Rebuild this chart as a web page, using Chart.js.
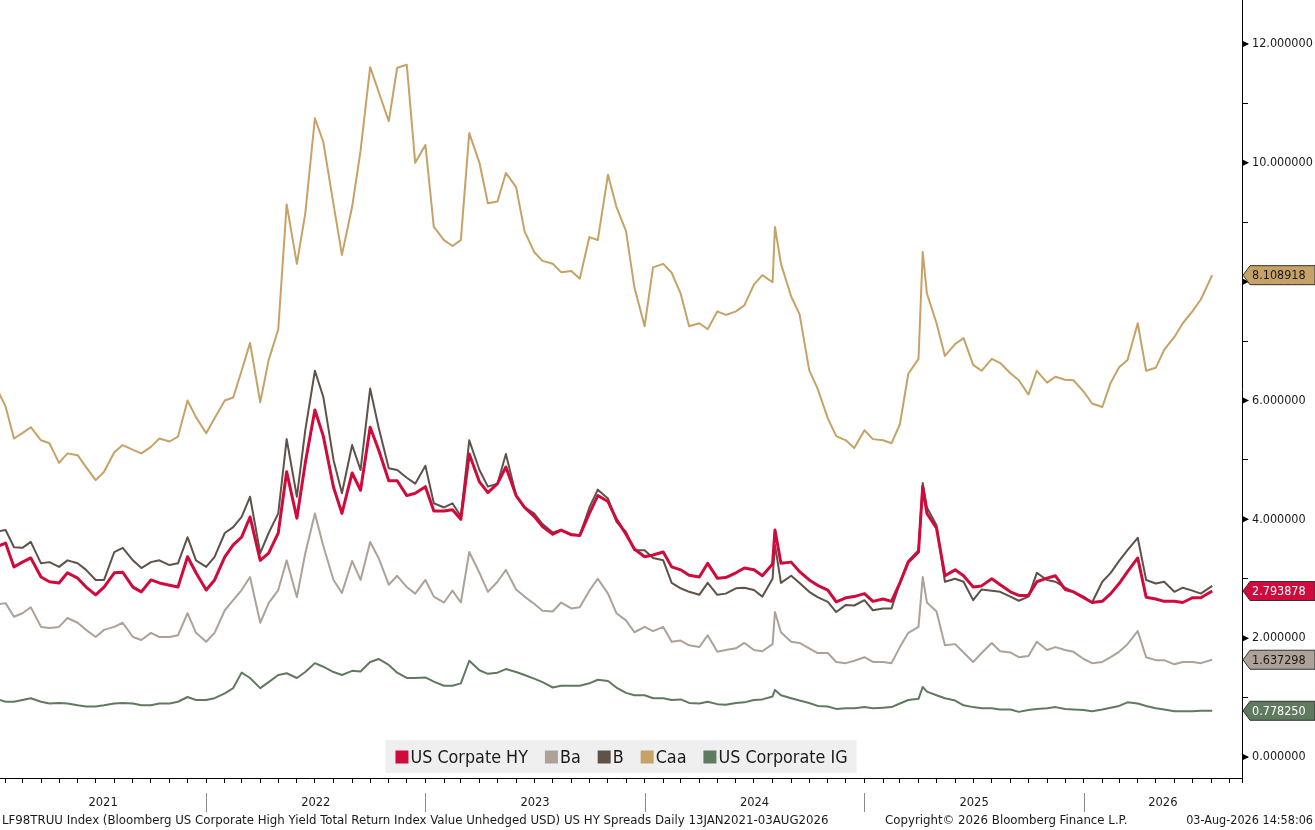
<!DOCTYPE html>
<html lang="en">

<head>
    <meta charset="UTF-8">
    <title>US HY Spreads</title>
    <script src="https://cdn.jsdelivr.net/npm/chart.js@4.4.1/dist/chart.umd.min.js"></script>
    <style>
        html,
        body {
            margin: 0;
            padding: 0;
            background: #ffffff;
        }

        #wrap {
            width: 1315px;
            height: 830px;
        }
    </style>
</head>

<body>
    <div id="wrap"><canvas id="spreadChart" width="1315" height="830"></canvas></div>

    <script>
        // sample dates (roughly twice a month, plus the two spike days)
        const dates = [
            '2021-01-13', '2021-02-01', '2021-02-15', '2021-03-01', '2021-03-15', '2021-04-01', '2021-04-15', '2021-05-01',
            '2021-05-15', '2021-06-01', '2021-06-15', '2021-07-01', '2021-07-15', '2021-08-01', '2021-08-15', '2021-09-01',
            '2021-09-15', '2021-10-01', '2021-10-15', '2021-11-01', '2021-11-15', '2021-12-01', '2021-12-15',
            '2022-01-01', '2022-01-15', '2022-02-01', '2022-02-15', '2022-03-01', '2022-03-15', '2022-04-01', '2022-04-15',
            '2022-05-01', '2022-05-15', '2022-06-01', '2022-06-15', '2022-07-01', '2022-07-15', '2022-08-01', '2022-08-15',
            '2022-09-01', '2022-09-15', '2022-10-01', '2022-10-15', '2022-11-01', '2022-11-15', '2022-12-01', '2022-12-15',
            '2023-01-01', '2023-01-15', '2023-02-01', '2023-02-15', '2023-03-01', '2023-03-15', '2023-04-01', '2023-04-15',
            '2023-05-01', '2023-05-15', '2023-06-01', '2023-06-15', '2023-07-01', '2023-07-15', '2023-08-01', '2023-08-15',
            '2023-09-01', '2023-09-15', '2023-10-01', '2023-10-15', '2023-11-01', '2023-11-15', '2023-12-01', '2023-12-15',
            '2024-01-01', '2024-01-15', '2024-02-01', '2024-02-15', '2024-03-01', '2024-03-15', '2024-04-01', '2024-04-15',
            '2024-05-01', '2024-05-15', '2024-06-01', '2024-06-15', '2024-07-01', '2024-07-15', '2024-08-01', '2024-08-05',
            '2024-08-15', '2024-09-01', '2024-09-15', '2024-10-01', '2024-10-15', '2024-11-01', '2024-11-15', '2024-12-01',
            '2024-12-15',
            '2025-01-01', '2025-01-15', '2025-02-01', '2025-02-15', '2025-03-01', '2025-03-15', '2025-04-01', '2025-04-08',
            '2025-04-15', '2025-05-01', '2025-05-15', '2025-06-01', '2025-06-15', '2025-07-01', '2025-07-15', '2025-08-01',
            '2025-08-15', '2025-09-01', '2025-09-15', '2025-10-01', '2025-10-15', '2025-11-01', '2025-11-15', '2025-12-01',
            '2025-12-15',
            '2026-01-01', '2026-01-15', '2026-02-01', '2026-02-15', '2026-03-01', '2026-03-15', '2026-04-01', '2026-04-15',
            '2026-05-01', '2026-05-15', '2026-06-01', '2026-06-15', '2026-07-01', '2026-07-15', '2026-08-03'
        ];

        const usHY = [
            3.52, 3.6, 3.2, 3.28, 3.35, 3.03, 2.95, 2.93, 3.1, 3.01, 2.86, 2.73, 2.86, 3.1, 3.11, 2.86, 2.78, 2.98, 2.93, 2.89, 2.86, 3.37, 3.1,
            2.81, 2.98, 3.37, 3.57, 3.7, 4.04, 3.31, 3.43, 3.77, 4.8, 4.02, 4.95, 5.84, 5.4, 4.54, 4.1, 4.78, 4.49, 5.55, 5.17, 4.65, 4.65, 4.4, 4.44,
            4.55, 4.14, 4.14, 4.16, 4.0, 5.1, 4.63, 4.45, 4.6, 4.88, 4.4, 4.2, 4.05, 3.88, 3.75, 3.82, 3.74, 3.73, 4.1, 4.4, 4.3, 4.0, 3.75, 3.5,
            3.37, 3.4, 3.45, 3.2, 3.15, 3.06, 3.03, 3.26, 3.01, 3.02, 3.1, 3.18, 3.15, 3.05, 3.25, 3.82, 3.26, 3.28, 3.12, 2.98, 2.89, 2.81, 2.61, 2.68, 2.7,
            2.75, 2.62, 2.66, 2.62, 2.93, 3.28, 3.45, 4.55, 4.1, 3.85, 3.05, 3.15, 3.05, 2.86, 2.88, 3.0, 2.9, 2.78, 2.72, 2.72, 2.95, 3.01, 3.05, 2.82, 2.78,
            2.68, 2.6, 2.62, 2.75, 2.92, 3.12, 3.35, 2.69, 2.66, 2.62, 2.62, 2.6, 2.68, 2.68, 2.793878
        ];

        const ratingBa = [
            2.56, 2.59, 2.36, 2.42, 2.52, 2.19, 2.17, 2.19, 2.34, 2.26, 2.14, 2.02, 2.14, 2.19, 2.26, 2.02, 1.97, 2.09, 2.02, 2.02, 2.05, 2.42, 2.09,
            1.94, 2.09, 2.47, 2.64, 2.81, 3.03, 2.26, 2.59, 2.81, 3.31, 2.69, 3.43, 4.1, 3.55, 2.98, 2.76, 3.3, 2.98, 3.62, 3.35, 2.9, 3.05, 2.86, 2.75,
            2.98, 2.7, 2.6, 2.8, 2.6, 3.45, 3.1, 2.78, 2.95, 3.15, 2.82, 2.7, 2.58, 2.46, 2.45, 2.6, 2.5, 2.52, 2.8, 3.0, 2.75, 2.42, 2.3, 2.1,
            2.19, 2.12, 2.19, 1.94, 1.96, 1.88, 1.85, 2.05, 1.77, 1.8, 1.83, 1.92, 1.8, 1.78, 1.9, 2.44, 2.1, 1.94, 1.92, 1.83, 1.75, 1.75, 1.6, 1.58, 1.62,
            1.68, 1.6, 1.6, 1.58, 1.85, 2.09, 2.19, 3.03, 2.6, 2.45, 1.88, 1.9, 1.76, 1.6, 1.75, 1.92, 1.78, 1.76, 1.68, 1.7, 1.94, 1.8, 1.85, 1.8, 1.77,
            1.65, 1.58, 1.6, 1.68, 1.77, 1.9, 2.12, 1.68, 1.63, 1.63, 1.56, 1.6, 1.6, 1.58, 1.637298
        ];

        const ratingB = [
            3.79, 3.82, 3.53, 3.52, 3.62, 3.26, 3.28, 3.2, 3.31, 3.26, 3.15, 2.98, 2.98, 3.45, 3.52, 3.31, 3.18, 3.28, 3.31, 3.23, 3.26, 3.7, 3.31,
            3.2, 3.37, 3.77, 3.87, 4.04, 4.38, 3.43, 3.77, 4.1, 5.35, 4.38, 5.5, 6.5, 6.06, 5.0, 4.44, 5.25, 4.83, 6.2, 5.55, 4.86, 4.83, 4.7, 4.6,
            4.9, 4.27, 4.2, 4.27, 4.05, 5.33, 4.83, 4.55, 4.6, 5.1, 4.4, 4.2, 4.1, 3.92, 3.78, 3.82, 3.75, 3.73, 4.2, 4.5, 4.35, 3.96, 3.79, 3.48,
            3.48, 3.35, 3.31, 2.93, 2.84, 2.78, 2.73, 2.93, 2.73, 2.75, 2.84, 2.85, 2.81, 2.7, 3.0, 3.57, 2.93, 3.05, 2.93, 2.78, 2.69, 2.61, 2.44, 2.56, 2.55,
            2.64, 2.47, 2.5, 2.5, 2.93, 3.3, 3.48, 4.61, 4.2, 3.9, 2.95, 3.0, 2.95, 2.64, 2.82, 2.8, 2.78, 2.7, 2.63, 2.7, 3.1, 2.98, 2.95, 2.85, 2.78,
            2.7, 2.6, 2.95, 3.1, 3.3, 3.48, 3.69, 2.98, 2.92, 2.95, 2.78, 2.85, 2.8, 2.75, 2.88
        ];

        const ratingCaa = [
            6.29, 5.9, 5.36, 5.45, 5.55, 5.33, 5.28, 4.95, 5.11, 5.08, 4.88, 4.66, 4.8, 5.13, 5.25, 5.17, 5.11, 5.22, 5.36, 5.31, 5.39, 6.0, 5.72,
            5.45, 5.7, 6.0, 6.05, 6.5, 6.97, 5.97, 6.68, 7.2, 9.3, 8.3, 9.15, 10.75, 10.35, 9.3, 8.45, 9.26, 10.2, 11.61, 11.2, 10.7, 11.6, 11.65, 10.0,
            10.3, 8.92, 8.7, 8.6, 8.7, 10.5, 10.0, 9.32, 9.35, 9.83, 9.59, 8.85, 8.5, 8.35, 8.3, 8.16, 8.18, 8.05, 8.75, 8.7, 9.8, 9.26, 8.85, 7.9,
            7.25, 8.24, 8.3, 8.15, 7.8, 7.25, 7.3, 7.2, 7.5, 7.44, 7.5, 7.6, 7.95, 8.11, 7.99, 8.92, 8.3, 7.75, 7.45, 6.51, 6.2, 5.7, 5.4, 5.33, 5.2,
            5.5, 5.35, 5.33, 5.28, 5.6, 6.45, 6.7, 8.5, 7.8, 7.3, 6.75, 6.95, 7.05, 6.6, 6.5, 6.7, 6.63, 6.46, 6.34, 6.1, 6.5, 6.3, 6.4, 6.35, 6.34,
            6.15, 5.95, 5.89, 6.3, 6.56, 6.68, 7.3, 6.5, 6.55, 6.85, 7.07, 7.3, 7.5, 7.7, 8.108918
        ];

        const usIG = [
            0.99, 0.93, 0.93, 0.96, 0.99, 0.93, 0.9, 0.91, 0.9, 0.87, 0.85, 0.85, 0.87, 0.9, 0.91, 0.9, 0.87, 0.87, 0.9, 0.9, 0.93, 1.01, 0.96,
            0.96, 0.99, 1.07, 1.16, 1.42, 1.33, 1.16, 1.26, 1.38, 1.41, 1.33, 1.43, 1.58, 1.52, 1.43, 1.38, 1.45, 1.44, 1.6, 1.65, 1.55, 1.42, 1.33, 1.33,
            1.34, 1.27, 1.2, 1.2, 1.24, 1.62, 1.46, 1.4, 1.42, 1.48, 1.43, 1.38, 1.32, 1.26, 1.17, 1.2, 1.2, 1.2, 1.24, 1.3, 1.28, 1.17, 1.08, 1.04,
            1.04, 0.99, 0.99, 0.96, 0.97, 0.91, 0.9, 0.93, 0.89, 0.88, 0.91, 0.92, 0.96, 0.97, 1.02, 1.13, 1.04, 0.99, 0.95, 0.91, 0.86, 0.85, 0.81, 0.82, 0.82,
            0.84, 0.82, 0.83, 0.84, 0.9, 0.96, 0.98, 1.18, 1.1, 1.04, 0.99, 0.95, 0.87, 0.84, 0.82, 0.82, 0.8, 0.8, 0.76, 0.79, 0.81, 0.82, 0.84, 0.81, 0.8,
            0.79, 0.77, 0.8, 0.83, 0.86, 0.92, 0.9, 0.86, 0.82, 0.8, 0.77, 0.77, 0.77, 0.78, 0.77825
        ];

        const seriesNames = ['US Corpate HY', 'Ba', 'B', 'Caa', 'US Corporate IG'];
        const seriesColors = ['#D10A3C', '#ADA298', '#5F5248', '#C7A267', '#5F7A5E'];
        const tagTextColors = ['#ffffff', '#1a1a1a', null, '#1a1a1a', '#ffffff'];
        const yearLabels = ['2021', '2022', '2023', '2024', '2025', '2026'];
        const footerLeft = 'LF98TRUU Index (Bloomberg US Corporate High Yield Total Return Index Value Unhedged USD) US HY Spreads Daily 13JAN2021-03AUG2026';
        const footerMid = 'Copyright\u00A9 2026 Bloomberg Finance L.P.';
        const footerRight = '03-Aug-2026 14:58:06';

        const FONT = "'DejaVu Sans Condensed', 'DejaVu Sans', sans-serif";

        // days counted from 1 Jan 2022
        const dayNum = s => (Date.UTC(+s.slice(0, 4), +s.slice(5, 7) - 1, +s.slice(8, 10)) - Date.UTC(2022, 0, 1)) / 86400000;
        const toPoints = arr => dates.map((d, i) => ({ x: dayNum(d), y: arr[i] }));

        // monthly tick marks under the time axis
        const monthTicks = [];
        yearLabels.forEach(yr => {
            for (let m = 1; m <= 12; m++) {
                monthTicks.push(dayNum(yr + '-' + String(m).padStart(2, '0') + '-01'));
            }
        });

        const seriesData = [usHY, ratingBa, ratingB, ratingCaa, usIG];

        // everything Bloomberg draws around the plot: triangles, years, footer, legend, last-value tags
        const decorations = {
            id: 'decorations',
            afterDraw(chart) {
                const { ctx, chartArea: area, scales: { x, y } } = chart;
                ctx.save();

                // major tick triangles on the value axis
                ctx.fillStyle = '#000';
                for (let v = 0; v <= 12; v += 2) {
                    const py = y.getPixelForValue(v);
                    ctx.beginPath();
                    ctx.moveTo(area.right, py - 3.5);
                    ctx.lineTo(area.right + 7, py);
                    ctx.lineTo(area.right, py + 3.5);
                    ctx.closePath();
                    ctx.fill();
                }

                // axis line runs a little below the time axis
                ctx.strokeStyle = '#000';
                ctx.lineWidth = 1;
                ctx.beginPath();
                ctx.moveTo(Math.round(area.right) + 0.5, area.bottom);
                ctx.lineTo(Math.round(area.right) + 0.5, area.bottom + 5);
                ctx.stroke();

                // year separators and labels
                ctx.font = '12.8px ' + FONT;
                ctx.textAlign = 'center';
                ctx.textBaseline = 'middle';
                const starts = yearLabels.map(yr => x.getPixelForValue(dayNum(yr + '-01-01')));
                yearLabels.forEach((yr, i) => {
                    const left = Math.max(starts[i], area.left);
                    const right = i + 1 < starts.length ? starts[i + 1] : area.right;
                    if (i > 0) {
                        ctx.strokeStyle = '#8a8a8a';
                        ctx.beginPath();
                        ctx.moveTo(Math.round(starts[i]) + 0.5, area.bottom + 15);
                        ctx.lineTo(Math.round(starts[i]) + 0.5, area.bottom + 34);
                        ctx.stroke();
                    }
                    ctx.fillStyle = '#1a1a1a';
                    ctx.fillText(yr, (left + right) / 2, area.bottom + 25);
                });

                // footer line
                ctx.font = '13.1px ' + FONT;
                ctx.textAlign = 'left';
                ctx.fillText(footerLeft, 2, area.bottom + 43);
                ctx.fillText(footerMid, 885, area.bottom + 43);
                ctx.font = '12.5px ' + FONT;
                ctx.textAlign = 'right';
                ctx.fillText(footerRight, chart.width - 2, area.bottom + 43);

                // legend inside the plot
                ctx.font = '17.8px ' + FONT;
                ctx.textAlign = 'left';
                let total = 0;
                const widths = seriesNames.map(n => ctx.measureText(n).width);
                widths.forEach((w, i) => { total += 15 + w + (i < widths.length - 1 ? 17 : 0); });
                const boxW = total + 19;
                const boxX = 621 - boxW / 2;
                const boxY = area.bottom - 38;
                ctx.fillStyle = '#EFEFEF';
                ctx.fillRect(boxX, boxY, boxW, 33);
                let lx = boxX + 10;
                const ly = boxY + 17;
                seriesNames.forEach((n, i) => {
                    ctx.fillStyle = seriesColors[i];
                    ctx.fillRect(lx, ly - 6.5, 13, 13);
                    ctx.fillStyle = '#1a1a1a';
                    ctx.fillText(n, lx + 15, ly + 1);
                    lx += 15 + widths[i] + 17;
                });

                // last value tags on the right
                ctx.font = '12.5px ' + FONT;
                seriesData.forEach((arr, i) => {
                    if (!tagTextColors[i]) return;
                    const val = arr[arr.length - 1];
                    const py = y.getPixelForValue(val);
                    ctx.beginPath();
                    ctx.moveTo(area.right + 1, py);
                    ctx.lineTo(area.right + 8, py - 9.5);
                    ctx.lineTo(chart.width, py - 9.5);
                    ctx.lineTo(chart.width, py + 9.5);
                    ctx.lineTo(area.right + 8, py + 9.5);
                    ctx.closePath();
                    ctx.fillStyle = seriesColors[i];
                    ctx.fill();
                    ctx.strokeStyle = '#333';
                    ctx.lineWidth = 1;
                    ctx.stroke();
                    ctx.fillStyle = tagTextColors[i];
                    ctx.textBaseline = 'middle';
                    ctx.fillText(val.toFixed(6), area.right + 10, py + 1);
                });

                ctx.restore();
            }
        };

        const ctxSpread = document.getElementById('spreadChart').getContext('2d');
        new Chart(ctxSpread, {
            type: 'line',
            data: {
                datasets: seriesData.map((arr, i) => ({
                    label: seriesNames[i],
                    data: toPoints(arr),
                    borderColor: seriesColors[i],
                    backgroundColor: seriesColors[i],
                    borderWidth: i === 0 ? 3 : 2,
                    pointRadius: 0,
                    tension: 0,
                    borderJoinStyle: 'round'
                }))
            },
            options: {
                responsive: false,
                animation: false,
                layout: { padding: 0 },
                plugins: {
                    legend: { display: false },
                    tooltip: { enabled: false }
                },
                scales: {
                    x: {
                        type: 'linear',
                        position: 'bottom',
                        min: -343.3,
                        max: 1724.6,
                        afterBuildTicks: scale => { scale.ticks = monthTicks.filter(v => v >= scale.min && v <= scale.max).map(v => ({ value: v })); },
                        afterFit: scale => {
                            scale.height = 52;
                            scale.paddingLeft = 0;
                            scale.paddingRight = 0;
                        },
                        ticks: { callback: () => '', autoSkip: false, maxRotation: 0 },
                        grid: { drawOnChartArea: false, tickLength: 5, tickColor: '#000' },
                        border: { display: true, color: '#000', width: 1 }
                    },
                    y: {
                        position: 'right',
                        min: -0.353,
                        max: 12.74,
                        afterFit: scale => {
                            scale.width = 73;
                            scale.paddingTop = 0;
                            scale.paddingBottom = 0;
                        },
                        ticks: {
                            stepSize: 1,
                            includeBounds: false,
                            padding: 4,
                            color: '#1a1a1a',
                            font: { size: 12.5, family: FONT },
                            callback: v => (v % 2 === 0 ? v.toFixed(6) : '')
                        },
                        grid: { drawOnChartArea: false, tickLength: 6, tickColor: '#000' },
                        border: { display: true, color: '#000', width: 1 }
                    }
                }
            },
            plugins: [decorations]
        });
    </script>
</body>

</html>
